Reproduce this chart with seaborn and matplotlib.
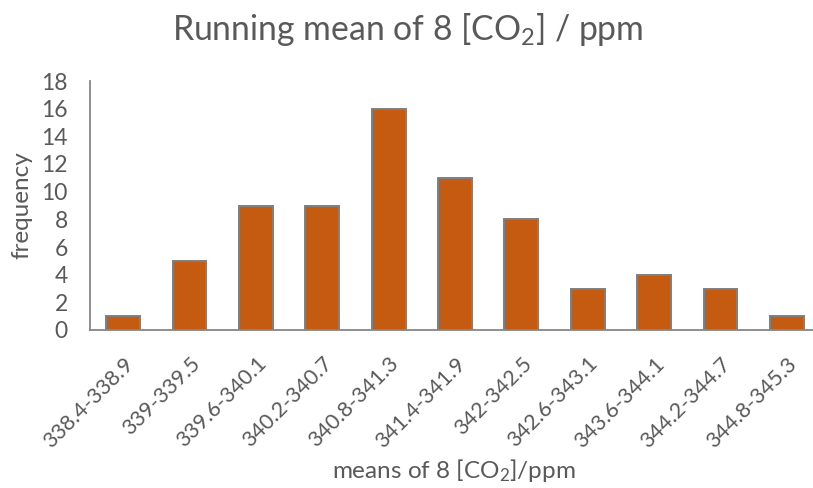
import matplotlib
matplotlib.use("Agg")
import matplotlib.pyplot as plt
import seaborn as sns
import pandas as pd
import numpy as np

categories = ["338.4-338.9", "339-339.5", "339.6-340.1", "340.2-340.7", "340.8-341.3",
              "341.4-341.9", "342-342.5", "342.6-343.1", "343.6-344.1", "344.2-344.7",
              "344.8-345.3"]
frequency = [1, 5, 9, 9, 16, 11, 8, 3, 4, 3, 1]
y_ticks = [0, 2, 4, 6, 8, 10, 12, 14, 16, 18]

sns.set_style("white")
plt.rcParams['font.family'] = ['Lato', 'DejaVu Sans']
plt.rcParams['mathtext.fontset'] = 'custom'
plt.rcParams['mathtext.rm'] = 'Lato'
plt.rcParams['mathtext.it'] = 'Lato'

text_color = "#595959"
axis_color = "#868686"

df = pd.DataFrame({"range": categories, "frequency": frequency})

fig = plt.figure(figsize=(8.13, 4.88), dpi=100)
ax = fig.add_axes([90/813, 1 - 330/488, 730/813, 249/488])

sns.barplot(data=df, x="range", y="frequency", color="#C55A11", width=0.51,
            edgecolor="#7f7f7f", linewidth=1.4, saturation=1, ax=ax)

ax.set_xlim(-0.5, len(categories) - 0.5)
ax.set_ylim(0, 18)
ax.set_yticks(y_ticks)
ax.set_yticklabels([str(t) for t in y_ticks], fontsize=16.5, color=text_color)
ax.set_xticks(range(len(categories)))
ax.set_xticklabels(categories, rotation=45, ha="right", va="top", rotation_mode="anchor",
                   fontsize=15.5, color=text_color)
ax.set_xticks(np.arange(-0.5, len(categories), 1.0), minor=True)
ax.tick_params(axis="x", which="major", length=0, pad=17)
ax.tick_params(axis="x", which="minor", length=5, width=1.3, color=axis_color, direction="out")
ax.tick_params(axis="y", length=5, width=1.3, color=axis_color, direction="out", pad=11)

for s in ["top", "right"]:
    ax.spines[s].set_visible(False)
for s in ["left", "bottom"]:
    ax.spines[s].set_color(axis_color)
    ax.spines[s].set_linewidth(1.3)

ax.set_xlabel(r"means of 8 [CO$_2$]/ppm", fontsize=17.5, color=text_color)
ax.xaxis.label.set_va("center")
ax.xaxis.set_label_coords((454 - 90) / 730, (330 - 470) / 249)
ax.set_ylabel("frequency", fontsize=17.5, color=text_color)
ax.yaxis.label.set_va("center")
ax.yaxis.set_label_coords((22 - 90) / 730, 0.5)

fig.suptitle(r"Running mean of 8 [CO$_2$] / ppm", x=408/813, y=1 - 29/488, fontsize=24.3,
             color=text_color, ha="center", va="center")

fig.savefig("out.png", dpi=100)
